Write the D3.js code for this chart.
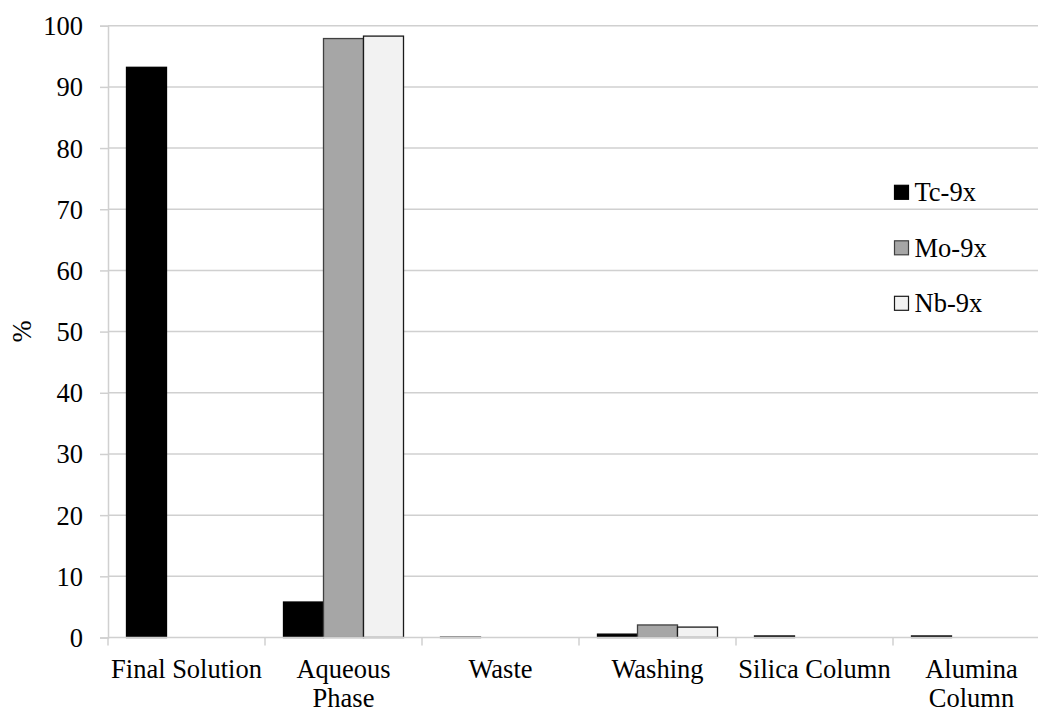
<!DOCTYPE html>
<html>
<head>
<meta charset="utf-8">
<script src="https://cdn.jsdelivr.net/npm/d3@7"></script>
<style>
  html, body { margin: 0; padding: 0; background: #fff; }
  svg { display: block; }
</style>
</head>
<body>
<svg id="chart" width="1038" height="711" font-family="Liberation Serif"></svg>
<script>
// ---- data ----
const categories = ["Final Solution", "Aqueous Phase", "Waste", "Washing", "Silica Column", "Alumina Column"];
const categoryLines = [["Final Solution"], ["Aqueous", "Phase"], ["Waste"], ["Washing"], ["Silica Column"], ["Alumina", "Column"]];
const seriesNames = ["Tc-9x", "Mo-9x", "Nb-9x"];
const tcValues = [93.2, 5.8, 0.05, 0.55, 0.25, 0.25];
const moValues = [0, 97.9, 0, 2.05, 0, 0];
const nbValues = [0, 98.3, 0, 1.7, 0, 0];
const yTicks = [0, 10, 20, 30, 40, 50, 60, 70, 80, 90, 100];

const seriesValues = [tcValues, moValues, nbValues];
const fills = ["#000000", "#a6a6a6", "#f2f2f2"];
const strokes = ["#000000", "#404040", "#1a1a1a"];
const fontSize = 26.5;
const FONT = "Liberation Serif";

const svg = d3.select("#chart");
const plotLeft = 108, plotRight = 1050, plotTop = 25.7, plotBottom = 637.5;

const x = d3.scaleBand().domain(categories).range([plotLeft, plotRight]).paddingInner(0).paddingOuter(0);
const xs = d3.scaleBand().domain(seriesNames).range([18.5, x.bandwidth() - 18.5]).padding(0);
const y = d3.scaleLinear().domain([0, 100]).range([plotBottom, plotTop]);

const gridColor = "#d0d0d0";

// gridlines
svg.append("g").selectAll("line").data(yTicks.filter(d => d > 0)).join("line")
  .attr("x1", plotLeft).attr("x2", plotRight)
  .attr("y1", d => y(d)).attr("y2", d => y(d))
  .attr("stroke", gridColor).attr("stroke-width", 1.5);

// y axis
const yAxis = d3.axisLeft(y).tickValues(yTicks).tickSize(8).tickPadding(17).tickFormat(d3.format("d"));
const gy = svg.append("g").attr("transform", `translate(${plotLeft},0)`).call(yAxis);
gy.attr("font-family", FONT).attr("font-size", fontSize);
gy.select(".domain").attr("stroke", gridColor).attr("stroke-width", 1.5);
gy.selectAll(".tick line").attr("stroke", gridColor).attr("stroke-width", 1.5);
gy.selectAll(".tick text").attr("font-family", FONT).attr("font-size", fontSize).attr("fill", "#000").attr("dy", "0.34em");

// bars
const groups = svg.append("g").selectAll("g").data(seriesNames).join("g");
groups.each(function(s, si) {
  d3.select(this).selectAll("rect").data(categories.map((c, ci) => ({c, v: seriesValues[si][ci]})).filter(d => d.v > 0))
    .join("rect")
    .attr("x", d => x(d.c) + xs(s))
    .attr("width", xs.bandwidth())
    .attr("y", d => y(d.v))
    .attr("height", d => y(0) - y(d.v))
    .attr("fill", fills[si])
    .attr("stroke", strokes[si])
    .attr("stroke-width", 1.3);
});

// x axis
const xAxis = d3.axisBottom(x).tickSize(0).tickFormat("");
const gx = svg.append("g").attr("transform", `translate(0,${plotBottom})`).call(xAxis);
gx.select(".domain").attr("stroke", gridColor).attr("stroke-width", 1.5).attr("d", `M${plotLeft},0H${plotRight}`);
// category separator ticks
svg.append("g").selectAll("line").data(categories).join("line")
  .attr("x1", d => x(d)).attr("x2", d => x(d))
  .attr("y1", plotBottom).attr("y2", plotBottom + 8)
  .attr("stroke", gridColor).attr("stroke-width", 1.5);

// category labels
const lab = svg.append("g").selectAll("text").data(categories).join("text")
  .attr("x", d => x(d) + x.bandwidth() / 2)
  .attr("y", 677.5)
  .attr("text-anchor", "middle")
  .attr("font-family", FONT)
  .attr("font-size", fontSize)
  .attr("fill", "#000");
lab.each(function(d, i) {
  d3.select(this).selectAll("tspan").data(categoryLines[i]).join("tspan")
    .attr("x", x(d) + x.bandwidth() / 2)
    .attr("dy", (t, j) => j === 0 ? 0 : 29)
    .text(t => t);
});

// y title
svg.append("text")
  .attr("transform", "translate(31,331.5) rotate(-90)")
  .attr("text-anchor", "middle")
  .attr("font-family", FONT)
  .attr("font-size", fontSize)
  .attr("fill", "#000")
  .text("%");

// legend
const legend = svg.append("g").selectAll("g").data(seriesNames).join("g")
  .attr("transform", (d, i) => `translate(894.5,${192.3 + i * 55.5})`);
legend.append("rect")
  .attr("x", 0).attr("y", -7).attr("width", 14).attr("height", 14)
  .attr("fill", (d, i) => fills[i]).attr("stroke", (d, i) => strokes[i]).attr("stroke-width", 1.2);
legend.append("text")
  .attr("x", 20).attr("y", 0).attr("dy", "0.34em")
  .attr("font-family", FONT)
  .attr("font-size", fontSize)
  .attr("fill", "#000")
  .text(d => d);
</script>
</body>
</html>
